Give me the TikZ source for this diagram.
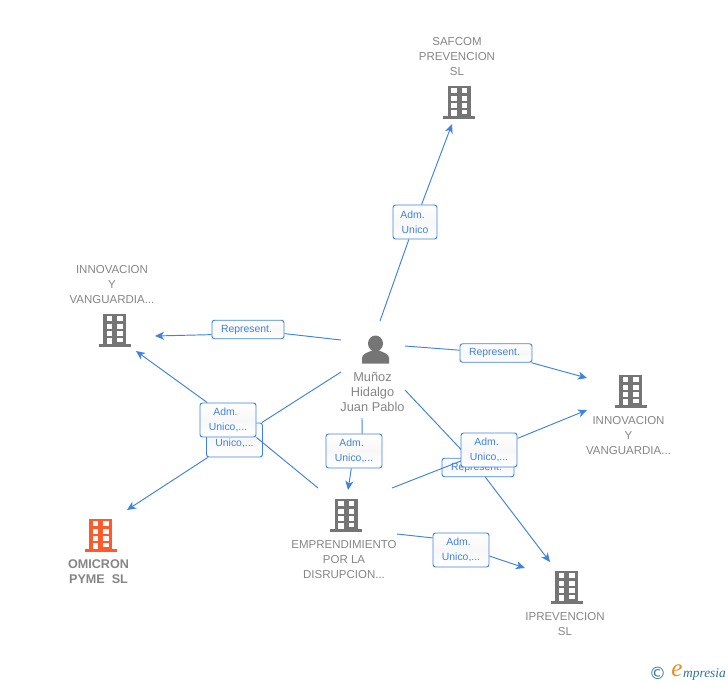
\documentclass[tikz,border=0pt]{standalone}
\usepackage{fontspec}
\setmainfont{Liberation Sans}
\newfontfamily\logofont{Liberation Serif}
\newfontfamily\symbfont{DejaVu Sans}
\usetikzlibrary{arrows.meta}
\definecolor{linkblue}{HTML}{3F82E0}
\definecolor{namegray}{HTML}{858585}
\definecolor{icongray}{HTML}{757575}
\definecolor{iconred}{HTML}{FF5A2C}
\definecolor{logoteal}{HTML}{2F7490}
\definecolor{logoorange}{HTML}{F08A1D}
\newcommand\reptext{\mbox{\raisebox{-1pt}{Represent.}\hspace{3pt}}}
\newcommand\admtext{\mbox{Adm.\hspace{5pt}}}
\tikzset{
	link/.style={linkblue,line width=.95pt},
	tolink/.style={link,-{Stealth[length=9pt,width=8pt,inset=2.5pt]}},
	rolebox/.style={draw=linkblue,line width=.95pt,rounded corners=2.5pt,top color=white,bottom color=white,middle color=black!3,text=linkblue,
		font=\fontsize{10.4}{15}\selectfont,align=center,inner sep=0pt,minimum width=56pt,minimum height=34pt},
	repbox/.style={rolebox,minimum width=72pt,minimum height=18.5pt},
	namelabel/.style={text=namegray,font=\fontsize{11.5}{15}\selectfont,align=center,inner sep=0pt},
	pics/building/.style={code={
		\fill[#1] (-11.5,-3) rectangle (11.5,-33);
		\fill[#1] (-16,0) rectangle (16,-3);
		\foreach \yy in {-28.5,-21,-13.5}{
			\fill[white] (-8,\yy-2.5) rectangle (-2.5,\yy+2.5);
			\fill[white] (2.5,\yy-2.5) rectangle (8,\yy+2.5);
		}
		\fill[white] (-8,-3) rectangle (-2.5,-9);
		\fill[white] (2.5,-5) rectangle (8,-9);
	}}
}
\begin{document}
\begin{tikzpicture}[x=1pt,y=-1pt]
	\useasboundingbox (0,0) rectangle (728,685);
	% free ends of the connectors
	\coordinate (perA) at (380,321);
	\coordinate (perB) at (341,340);
	\coordinate (perC) at (405,346);
	\coordinate (perD) at (341,372);
	\coordinate (perE) at (362,418);
	\coordinate (perF) at (405,390);
	\coordinate (empA) at (318,488);
	\coordinate (empB) at (392,488);
	\coordinate (empC) at (397,534);
	\coordinate (safIn) at (452,124);
	\coordinate (innlIn) at (155,336);
	\coordinate (innlInB) at (136,351);
	\coordinate (innrIn) at (587,378);
	\coordinate (innrInB) at (587,410);
	\coordinate (omiIn) at (127,510);
	\coordinate (empIn) at (348,490);
	\coordinate (ipreIn) at (525,568);
	\coordinate (ipreInB) at (550,562);

	% buildings
	\path (459,119) pic {building=icongray};
	\path (114.5,347) pic {building=icongray};
	\path (630.5,408) pic {building=icongray};
	\path (346,532) pic {building=icongray};
	\path (566.5,604) pic {building=icongray};
	\path (100.5,552) pic {building=iconred};
	% person
	\fill[icongray] (375.5,343.5) ellipse (7.5pt and 8pt);
	\fill[icongray] (362,363.5) -- (362,358) .. controls (362,353.5) and (368,352.5) .. (372,350.5) -- (379,350.5) .. controls (383,352.5) and (389,353.5) .. (389,358) -- (389,363.5) -- cycle;

	% names
	\node[namelabel] (safcom) at (457,57) {SAFCOM\\PREVENCION\\SL};
	\node[namelabel] (innl) at (112,285) {INNOVACION\\Y\\VANGUARDIA...};
	\node[namelabel] (innr) at (628.5,436) {INNOVACION\\Y\\VANGUARDIA...};
	\node[namelabel] (empr) at (344,560) {EMPRENDIMIENTO\\POR LA\\DISRUPCION...};
	\node[namelabel] (ipre) at (565,624.5) {IPREVENCION\\SL};
	\node[namelabel,font=\fontsize{12.6}{15}\selectfont\bfseries] (omi) at (98.5,571.5) {OMICRON\\PYME\ \ SL};
	\node[namelabel,font=\fontsize{12.8}{15}\selectfont] (per) at (372.5,392) {Muñoz\\Hidalgo\\Juan Pablo};

	% role boxes under the others
	\node[rolebox] (labD) at (234.5,440) {\mbox{}\\Unico,...};
	\node[repbox] (labI) at (478,467.5) {\reptext};
	% connectors
	\draw[link] (perD) -- (labD);
	\draw[tolink] (labD) -- (omiIn);
	\draw[link] (perF) -- (labI);
	\draw[tolink] (labI) -- (ipreInB);

	\node[rolebox] (labE) at (228,420) {\admtext\\Unico,...};
	\draw[link] (empA) -- (labE.south east);
	\draw[tolink] (labE.140) -- (innlInB);

	\node[rolebox,minimum width=44pt] (labA) at (415,222) {\admtext\\Unico};
	\draw[link] (perA) -- (labA);
	\draw[tolink] (labA) -- (safIn);

	\node[repbox] (labB) at (248,329.5) {\reptext};
	\draw[link] (perB) -- (labB);
	\draw[tolink] (labB.188) -- (innlIn);

	\node[repbox] (labC) at (496,353) {\reptext};
	\draw[link] (perC) -- (labC);
	\draw[tolink] (labC) -- (innrIn);

	\node[rolebox] (labF) at (354,451) {\admtext\\Unico,...};
	\draw[link] (perE) -- (labF.65);
	\draw[tolink] (labF) -- (empIn);

	\draw[link] (empB) -- (489,450) coordinate (midG);
	\node[rolebox] (labG) at (midG) {\admtext\\Unico,...};
	\draw[tolink] (labG) -- (innrInB);

	\node[rolebox] (labH) at (461,550) {\admtext\\Unico,...};
	\draw[link] (empC) -- (labH.157);
	\draw[tolink] (labH.-12) -- (ipreIn);

	% logo
	\node[text=logoteal,font=\symbfont\fontsize{17}{17}\selectfont,inner sep=0pt] (copy) at (657.5,673.5) {©};
	\node[text=logoorange,font=\logofont\itshape\fontsize{25}{25}\selectfont,inner sep=0pt] (logoe) at (677,671) {e};
	\node[text=logoteal,font=\logofont\itshape\fontsize{13.4}{15}\selectfont,inner sep=0pt,anchor=west] (logotxt) at (683,674.5) {mpresia};
\end{tikzpicture}
\end{document}
